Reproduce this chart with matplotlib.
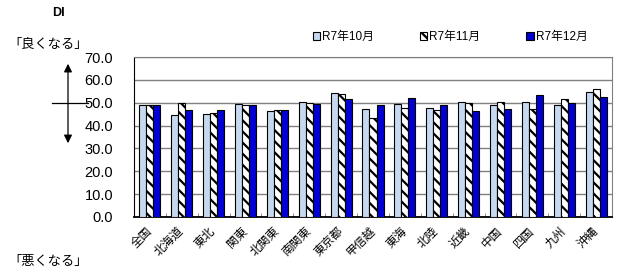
import numpy as np
import matplotlib.pyplot as plt
from matplotlib.patches import FancyArrowPatch
from matplotlib.lines import Line2D

plt.rcParams['font.family'] = ['Liberation Sans', 'Noto Sans CJK JP', 'DejaVu Sans']
plt.rcParams['hatch.linewidth'] = 1.6

# Data
regions = ["全国", "北海道", "東北", "関東", "北関東", "南関東", "東京都", "甲信越",
           "東海", "北陸", "近畿", "中国", "四国", "九州", "沖縄"]
oct_vals = [49.2, 44.8, 45.1, 49.4, 46.2, 50.3, 54.1, 47.4, 49.6, 47.7, 50.4, 49.1, 50.3, 48.8, 54.6]
nov_vals = [48.9, 50.0, 45.7, 49.1, 47.0, 49.9, 53.6, 43.2, 47.7, 46.7, 49.9, 50.3, 47.1, 51.6, 55.9]
dec_vals = [48.9, 46.7, 46.7, 49.0, 47.0, 49.4, 51.7, 49.1, 51.9, 49.1, 46.5, 47.2, 53.3, 50.0, 52.5]
series_labels = ["R7年10月", "R7年11月", "R7年12月"]
yticks = [0, 10, 20, 30, 40, 50, 60, 70]

fig = plt.figure(figsize=(6.18, 2.80), dpi=100)
ax = fig.add_axes([134 / 618, 1 - 217 / 280, 478 / 618, 160 / 280])

x = np.arange(len(regions))
w = 0.22
b1 = ax.bar(x - w, oct_vals, w, color='#c6d9f1', edgecolor='black', linewidth=0.8, zorder=3)
b2 = ax.bar(x, nov_vals, w, color='white', edgecolor='black', hatch='\\\\\\', linewidth=0.8, zorder=3)
b3 = ax.bar(x + w, dec_vals, w, color='#0000d0', edgecolor='black', linewidth=0.8, zorder=3)

ax.set_ylim(0, 70)
ax.set_xlim(-0.5, len(regions) - 0.5)
ax.set_yticks(yticks)
ax.set_yticklabels([f"{v:.1f}" for v in yticks], fontsize=10.5)
ax.yaxis.grid(True, color='#808080', linewidth=1.0, zorder=0)
ax.tick_params(axis='y', length=0, pad=15)

ax.set_xticks(x)
ax.set_xticklabels(regions, rotation=45, ha='right', va='center', rotation_mode='anchor', fontsize=8.5)
ax.tick_params(axis='x', length=0, pad=9)
ax.set_xticks(np.arange(-0.5, len(regions)), minor=True)
ax.tick_params(axis='x', which='minor', direction='in', length=3, color='#808080')

for s in ['top', 'right']:
    ax.spines[s].set_color('#808080')
ax.spines['left'].set_color('black')
ax.spines['bottom'].set_color('black')
ax.spines['bottom'].set_linewidth(1.3)

leg = fig.legend([b1, b2, b3], series_labels, loc='center left', bbox_to_anchor=(302 / 618, 1 - 37 / 280),
                 ncol=3, frameon=False, fontsize=8.5, handlelength=0.6, handleheight=0.6,
                 handletextpad=0.2, columnspacing=3.9)

# left annotations
fig.text(52 / 618, 1 - 13 / 280, "DI", fontsize=9, ha='left', va='center', fontweight='bold')
fig.text(8 / 618, 1 - 45 / 280, "「良くなる」", fontsize=9.5, ha='left', va='center')
fig.text(8 / 618, 1 - 262 / 280, "「悪くなる」", fontsize=9.5, ha='left', va='center')

arrow = FancyArrowPatch((68 / 618, 1 - 146 / 280), (68 / 618, 1 - 61 / 280),
                        transform=fig.transFigure, arrowstyle='<|-|>', mutation_scale=12,
                        color='black', linewidth=0.9)
fig.add_artist(arrow)
fig.add_artist(Line2D([52 / 618, 88 / 618], [1 - 103 / 280, 1 - 103 / 280],
                      transform=fig.transFigure, color='black', linewidth=0.9))

fig.savefig('out.png', dpi=100)
